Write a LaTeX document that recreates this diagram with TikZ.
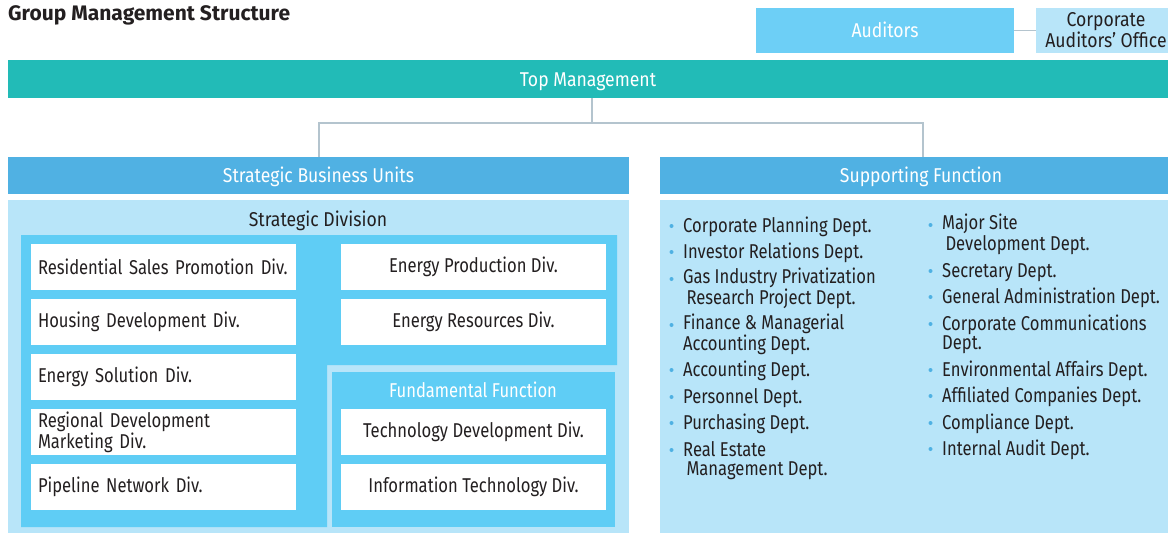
\documentclass[tikz,border=0pt]{standalone}
\usepackage{fontspec}
\setmainfont[FakeStretch=0.83]{Fira Sans}
\newfontfamily\headfont[FakeStretch=0.88]{Fira Sans}
\newfontfamily\titlefont{Fira Sans}
\definecolor{teal}{HTML}{22BBB7}
\definecolor{audc}{HTML}{6DCFF6}
\definecolor{lightc}{HTML}{B8E5F9}
\definecolor{headc}{HTML}{50B1E3}
\definecolor{innerc}{HTML}{5FCDF5}
\definecolor{linec}{HTML}{B4C4CE}
\definecolor{textc}{HTML}{231F20}
\definecolor{bulc}{HTML}{4FB1E3}
\begin{document}
\begin{tikzpicture}[x=1pt,y=-1pt,
  every node/.style={font=\fontsize{20}{19}\selectfont, text=textc},
  area/.style={anchor=north west, inner sep=0pt, outer sep=0pt, draw=none},
  bar/.style={area, text=white, font=\headfont\fontsize{20}{19}\selectfont, text height=14pt, text depth=0pt},
  wbox/.style={area, fill=white, minimum width=265pt, minimum height=46pt},
  lbox/.style={wbox, align=left, text width=251pt, inner xsep=7pt},
  cbox/.style={wbox, align=center},
  item/.style={anchor=base west, inner sep=0pt, align=left},
  conn/.style={draw=linec, line width=1.6pt}
]
\useasboundingbox (0,0) rectangle (1168,533);
% title
\node[anchor=west, inner sep=0pt, font=\titlefont\bfseries\fontsize{21}{22}\selectfont] (title) at (8,15) {Group Management Structure};
% auditors
\node[bar, fill=audc, minimum width=258pt, minimum height=45pt] (aud) at (756,8) {Auditors};
\node[area, fill=lightc, minimum width=132pt, minimum height=45pt, align=center, font=\headfont\fontsize{20}{19}\selectfont] (cao) at (1036,8) {\hspace*{8pt}Corporate\\\hspace*{8pt}Auditors’ Office};
\draw[conn] (aud.east) -- (cao.west);
% top management
\node[bar, fill=teal, minimum width=1160pt, minimum height=38pt] (top) at (8,60) {Top Management};
\node[bar, fill=headc, minimum width=621pt, minimum height=37pt] (sbu) at (8,157) {Strategic Business Units};
\node[bar, fill=headc, minimum width=508pt, minimum height=37pt] (sf) at (660,157) {\hspace*{14pt}Supporting Function};
\coordinate (jm) at (592,123);
\coordinate (jl) at (319,123);
\coordinate (jr) at (923,123);
\draw[conn] (top.south -| jm) -- (jm);
\draw[conn] (sbu.north -| jl) -- (jl) -- (jr) -- (sf.north -| jr);
% areas
\node[area, fill=lightc, minimum width=621pt, minimum height=333pt] (sdarea) at (8,200) {};
\node[area, fill=lightc, minimum width=508pt, minimum height=333pt] (sfarea) at (660,200) {};
\node[font=\headfont\fontsize{20}{19}\selectfont, text height=14pt, text depth=0pt] (sdlabel) at (318,219) {Strategic Division};
\fill[innerc] (21,235) -- (617,235) -- (617,365) -- (327,365) -- (327,527) -- (21,527) -- cycle;
\node[area, fill=innerc, minimum width=283pt, minimum height=155pt] (ff) at (332,372) {};
\node[text=white, text height=14pt, text depth=0pt] (fflabel) at (473,390) {Fundamental Function};
% left boxes
\node[lbox] (d1) at (31,244) {Residential Sales Promotion Div.};
\node[lbox] (d2) at (31,299) {Housing Development Div.};
\node[lbox] (d3) at (31,354) {Energy Solution Div.};
\node[lbox] (d4) at (31,409) {Regional Development\\Marketing Div.};
\node[lbox] (d5) at (31,464) {Pipeline Network Div.};
% right boxes
\node[cbox] (e1) at (341,244) {Energy Production Div.};
\node[cbox] (e2) at (341,299) {Energy Resources Div.};
\node[cbox] (f1) at (341,409) {Technology Development Div.};
\node[cbox] (f2) at (341,464) {Information Technology Div.};
% supporting function items
\foreach \n/\y/\k/\t in {
  a1/225/0/{Corporate Planning Dept.},
  a2/251/0/{Investor Relations Dept.},
  a3/278/1/{Gas Industry Privatization\\\,Research Project Dept.},
  a4/324/1/{Finance \& Managerial\\Accounting Dept.},
  a5/369/0/{Accounting Dept.},
  a6/396/0/{Personnel Dept.},
  a7/422/0/{Purchasing Dept.},
  a8/449/1/{Real Estate\\\,Management Dept.}}{
  \node[item] (\n) at (683,\y+7+19*\k) {\t};
  \fill[bulc] (\n.base west) ++(-11.5,-6-19*\k) circle (2pt);
}
\foreach \n/\y/\k/\t in {
  b1/224/1/{Major Site\\\,Development Dept.},
  b2/270/0/{Secretary Dept.},
  b3/296/0/{General Administration Dept.},
  b4/323/1/{Corporate Communications\\Dept.},
  b5/369/0/{Environmental Affairs Dept.},
  b6/395/0/{Affiliated Companies Dept.},
  b7/422/0/{Compliance Dept.},
  b8/448/0/{Internal Audit Dept.}}{
  \node[item] (\n) at (942,\y+7+19*\k) {\t};
  \fill[bulc] (\n.base west) ++(-11.5,-6-19*\k) circle (2pt);
}
\end{tikzpicture}
\end{document}
